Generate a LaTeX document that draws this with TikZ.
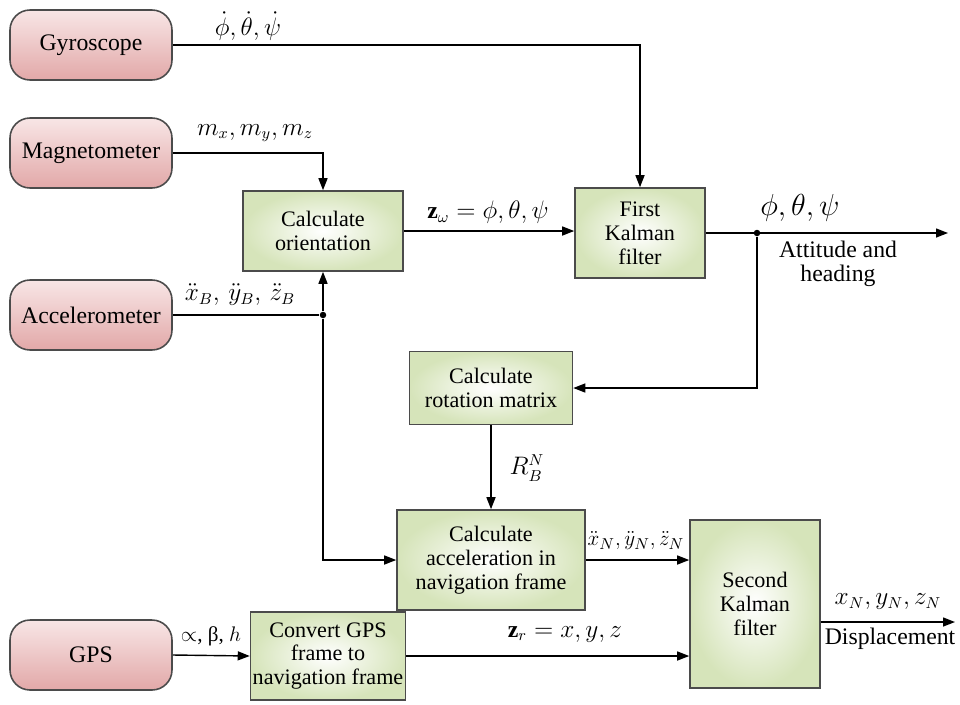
\documentclass[tikz,border=0pt]{standalone}
\usepackage{amsmath}
\usepackage{fontspec}
\setmainfont{Liberation Serif}
\usetikzlibrary{arrows.meta, positioning, shadings}
\definecolor{sensortop}{RGB}{248, 230, 230}
\definecolor{sensorbot}{RGB}{226, 168, 168}
\definecolor{procfill}{RGB}{214, 228, 186}
\definecolor{boxline}{RGB}{75, 75, 75}

\tikzset{
  sensor/.style={draw=boxline, line width=0.9pt, rounded corners=4mm, top color=sensortop, bottom color=sensorbot, minimum width=3.24cm, minimum height=1.4cm, font=\rmfamily\fontsize{13.5}{14}\selectfont},
  process/.style={draw=boxline, line width=0.9pt, inner color=white, outer color=procfill, align=center, inner sep=1pt, font=\rmfamily\fontsize{12.6}{13.6}\selectfont},
  flow/.style={line width=0.8pt, -{Triangle[length=2.4mm, width=1.8mm]}},
  wire/.style={line width=0.8pt},
  junction/.style={circle, fill, inner sep=0pt, minimum size=1.3mm},
  lbl/.style={inner sep=1pt}
}

\begin{document}
\begin{tikzpicture}[x=0.02cm, y=-0.02cm, every node/.style={font=\rmfamily\fontsize{13.5}{14}\selectfont}]
\useasboundingbox (0,0) rectangle (960,704);

% sensors
\node[sensor] (gyro) at (91,45) {Gyroscope};
\node[sensor] (magneto) at (91,153) {Magnetometer};
\node[sensor] (accel) at (91,315) {Accelerometer};
\node[sensor] (gps) at (91,655) {GPS};

% processing blocks
\node[process, minimum width=3.2cm, minimum height=1.6cm] (orient) at (323,231) {Calculate\\orientation};
\node[process, minimum width=2.6cm, minimum height=1.8cm] (kf1) at (640,233) {First\\Kalman\\filter};
\node[process, minimum width=3.26cm, minimum height=1.46cm] (rotmat) at (491,388) {Calculate\\rotation matrix};
\node[process, minimum width=3.76cm, minimum height=2cm] (accframe) at (491,560) {Calculate\\acceleration in\\navigation frame};
\node[process, minimum width=2.6cm, minimum height=3.36cm] (kf2) at (755,604) {Second\\Kalman\\filter};
\node[process, minimum width=3.1cm, minimum height=1.76cm] (convert) at (328,656) {Convert GPS\\frame to\\navigation frame};

% junctions and free ends
\node[junction] (accdot) at (accel.east -| orient.south) {};
\node[junction] (attdot) at (757,233) {};
\coordinate (attout) at (948,233);
\coordinate (dispout) at (955,622);

% connectors
\draw[flow] (gyro.east) -| (kf1.north);
\draw[flow] (magneto.east) -| (orient.north);
\draw[wire] (accel.east) -- (accdot);
\draw[flow] (accdot) -- (orient.south);
\draw[flow] (accdot) |- (accframe.west);
\draw[flow] (orient.east) -- (orient.east -| kf1.west);
\draw[flow] (kf1.east) -- (attout);
\draw[flow] (attdot) |- (rotmat.east);
\draw[flow] (rotmat.south) -- (accframe.north);
\draw[flow] (accframe.east) -- (accframe.east -| kf2.west);
\draw[flow] (gps.east) -- (convert.west);
\draw[flow] (convert.east) -- (convert.east -| kf2.west);
\draw[flow] (dispout -| kf2.east) -- (dispout);

% signal labels
\node[lbl] (gyrolbl) at (248,26) {$\dot{\phi},\dot{\theta},\dot{\psi}$};
\node[lbl] (magnetolbl) at (255,133) {$m_x,m_y,m_z$};
\node[lbl] (accellbl) at (240,295) {$\ddot{x}_B,\,\ddot{y}_B,\,\ddot{z}_B$};
\node[lbl, font=\rmfamily\fontsize{12}{13}\selectfont] (gpslbl) at (211,636) {$\propto$, β, $h$};
\node[lbl] (zwlbl) at (488,212) {$\mathbf{z}_{\omega}=\phi,\theta,\psi$};
\node[lbl, font=\fontsize{16}{18}\selectfont] (attlbl) at (800,208) {$\phi,\theta,\psi$};
\node[lbl, align=center] (atttxt) at (838,264) {Attitude and\\heading};
\node[lbl] (rotlbl) at (527,468) {$R_B^N$};
\node[lbl, font=\fontsize{12.5}{14}\selectfont] (accNlbl) at (636,541) {$\ddot{x}_N,\ddot{y}_N,\ddot{z}_N$};
\node[lbl] (zrlbl) at (565,634) {$\mathbf{z}_{r}=x,y,z$};
\node[lbl] (displbl) at (888,602) {$x_N,y_N,z_N$};
\node[lbl] (disptxt) at (890,639) {Displacement};
\end{tikzpicture}
\end{document}
